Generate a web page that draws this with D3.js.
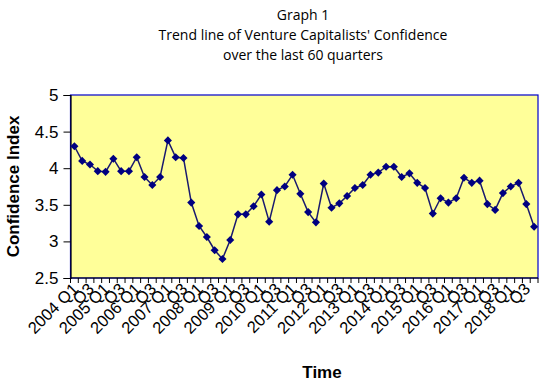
<!DOCTYPE html>
<html>
<head>
<meta charset="utf-8">
<script src="https://cdn.jsdelivr.net/npm/d3@7"></script>
<style>
body { margin: 0; background: #fff; }
svg text { font-family: Arial, "Liberation Sans", sans-serif; }
.title { font-family: "Open Sans", "Noto Sans", sans-serif; font-size: 14px; }
</style>
</head>
<body>
<svg class="chart"></svg>
<script>
var width = 550, height = 383;

// data
var years = [2004,2005,2006,2007,2008,2009,2010,2011,2012,2013,2014,2015,2016,2017,2018];
var quarters = ["Q1","Q2","Q3","Q4"];
var confidence = [
  4.30, 4.10, 4.05, 3.96, 3.95, 4.13, 3.96, 3.96, 4.15, 3.88,
  3.77, 3.88, 4.38, 4.15, 4.14, 3.53, 3.21, 3.06, 2.88, 2.76,
  3.02, 3.37, 3.37, 3.48, 3.64, 3.27, 3.70, 3.75, 3.91, 3.65,
  3.40, 3.26, 3.79, 3.46, 3.52, 3.62, 3.73, 3.77, 3.91, 3.94,
  4.02, 4.02, 3.88, 3.93, 3.80, 3.73, 3.38, 3.59, 3.53, 3.59,
  3.87, 3.80, 3.83, 3.51, 3.43, 3.66, 3.75, 3.80, 3.51, 3.20
];
var yTicks = [2.5, 3, 3.5, 4, 4.5, 5];
var titleLines = ["Graph 1", "Trend line of Venture Capitalists' Confidence", "over the last 60 quarters"];

var cats = [];
years.forEach(function(y) {
  quarters.forEach(function(q) { cats.push(y + " " + q); });
});
var data = cats.map(function(c, i) { return {cat: c, value: confidence[i]}; });

// only Q1 (with year) and Q3 get a label
function tickLabel(c) {
  var p = c.split(" ");
  if (p[1] == "Q1") return c;
  if (p[1] == "Q3") return "Q3";
  return "";
}

var pLeft = 70.5, pRight = 538, pTop = 95, pBottom = 278;

var chart = d3.select(".chart")
  .attr("width", width)
  .attr("height", height);

var x = d3.scaleBand().domain(cats).range([pLeft, pRight]);
var y = d3.scaleLinear().domain([2.5, 5]).range([pBottom, pTop]);

// plot area
chart.append("rect")
  .attr("x", pLeft).attr("y", pTop)
  .attr("width", pRight - pLeft).attr("height", pBottom - pTop)
  .attr("fill", "#ffff99")
  .attr("stroke", "#0000cc")
  .attr("stroke-width", 1.2);

// title
chart.append("g").selectAll("text")
  .data(titleLines)
  .enter().append("text")
  .attr("class", "title")
  .attr("x", 303)
  .attr("y", function(d, i) { return 20 + i * 20; })
  .attr("text-anchor", "middle")
  .attr("fill", "#000")
  .text(function(d) { return d; });

// y axis
var yAxis = d3.axisLeft(y).tickValues(yTicks).tickSize(7).tickPadding(5)
  .tickFormat(function(d) { return d; });
var yg = chart.append("g")
  .attr("transform", "translate(" + pLeft + ",0)")
  .call(yAxis);
yg.selectAll("text").style("font-size", "17px").attr("fill", "#000");
yg.select(".domain").attr("stroke", "#000").attr("stroke-width", 1.2);

// x axis: ticks between categories, labels at Q1 / Q3
var xEdges = d3.scaleLinear().domain([0, cats.length]).range([pLeft, pRight]);
var xg = chart.append("g");
xg.append("line")
  .attr("x1", pLeft).attr("x2", pRight)
  .attr("y1", pBottom).attr("y2", pBottom)
  .attr("stroke", "#000").attr("stroke-width", 1.2);
xg.selectAll("line.tk")
  .data(d3.range(cats.length + 1))
  .enter().append("line")
  .attr("class", "tk")
  .attr("x1", function(d) { return xEdges(d); })
  .attr("x2", function(d) { return xEdges(d); })
  .attr("y1", pBottom).attr("y2", pBottom + 5)
  .attr("stroke", "#000");
xg.selectAll("text")
  .data(cats.filter(function(c) { return tickLabel(c) != ""; }))
  .enter().append("text")
  .attr("transform", function(d) {
    return "translate(" + (x(d) + x.bandwidth() / 2 + 5) + "," + (pBottom + 12) + ") rotate(-45)";
  })
  .attr("text-anchor", "end")
  .style("font-size", "16.5px")
  .attr("fill", "#000")
  .text(function(d) { return tickLabel(d); });

// axis titles
chart.append("text")
  .attr("x", 322).attr("y", 378)
  .attr("text-anchor", "middle")
  .style("font-size", "17px").style("font-weight", "bold")
  .text("Time");
chart.append("text")
  .attr("transform", "translate(19," + ((pTop + pBottom) / 2) + ") rotate(-90)")
  .attr("text-anchor", "middle")
  .style("font-size", "17px").style("font-weight", "bold")
  .text("Confidence Index");

// line and markers
var line = d3.line()
  .x(function(d) { return x(d.cat) + x.bandwidth() / 2; })
  .y(function(d) { return y(d.value); });

chart.append("path")
  .datum(data)
  .attr("d", line)
  .attr("fill", "none")
  .attr("stroke", "#1a1a6e")
  .attr("stroke-width", 1.5);

chart.append("g").selectAll("path")
  .data(data)
  .enter().append("path")
  .attr("d", d3.symbol().type(d3.symbolDiamond2).size(42))
  .attr("transform", function(d) {
    return "translate(" + (x(d.cat) + x.bandwidth() / 2) + "," + y(d.value) + ")";
  })
  .attr("fill", "#000080");
</script>
</body>
</html>
